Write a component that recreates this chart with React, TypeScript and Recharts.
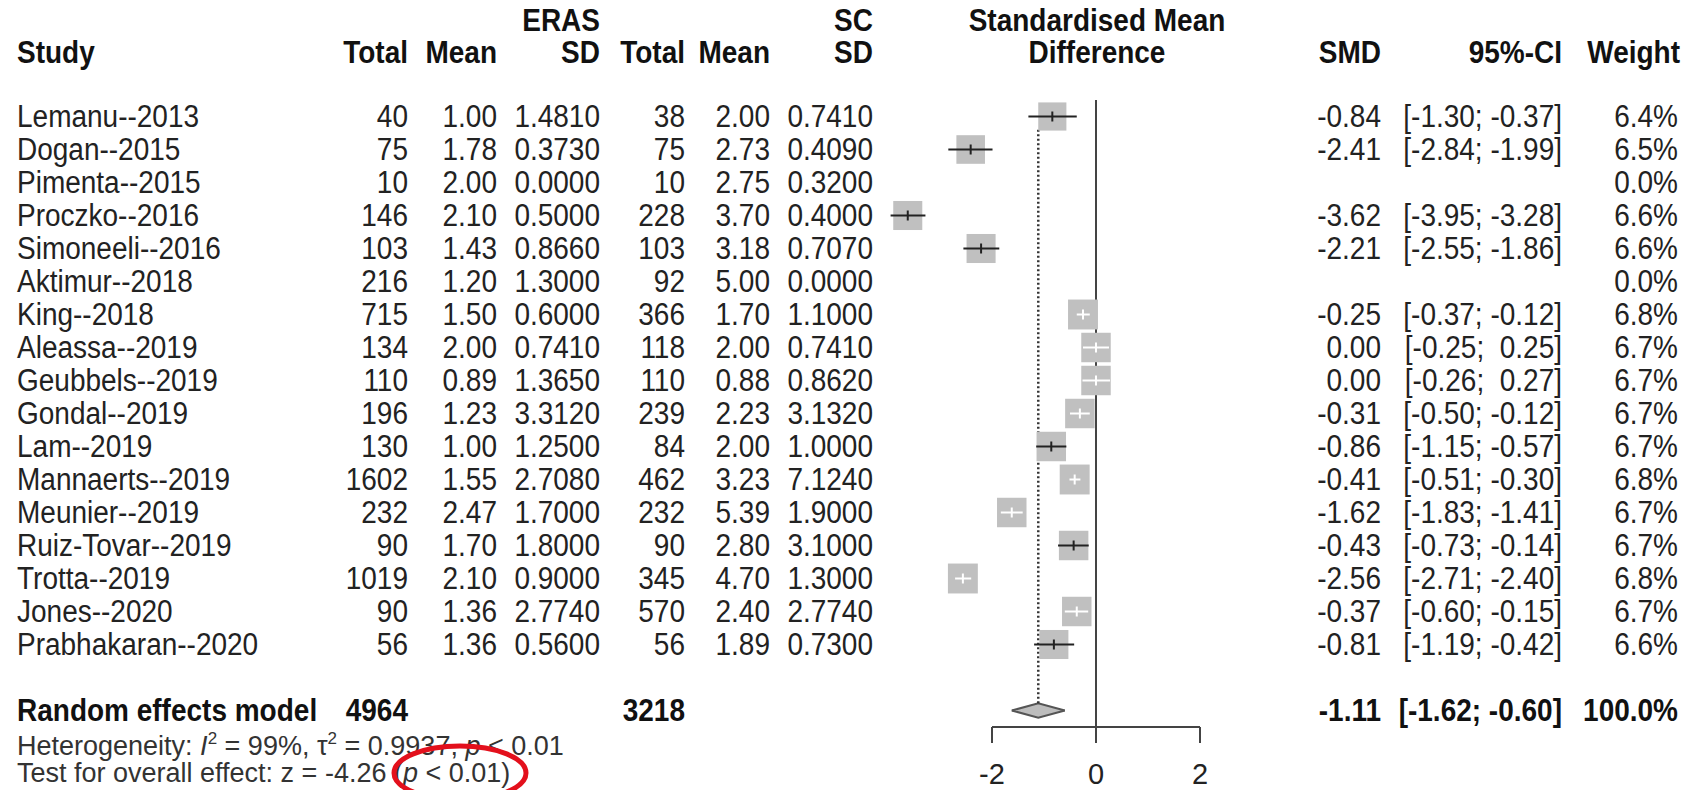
import React from 'react';
import {
  ComposedChart,
  Scatter,
  Area,
  XAxis,
  YAxis,
  ReferenceLine,
  Customized,
} from 'recharts';

// study table (ERAS vs SC)
const studies = [
  'Lemanu--2013', 'Dogan--2015', 'Pimenta--2015', 'Proczko--2016', 'Simoneeli--2016',
  'Aktimur--2018', 'King--2018', 'Aleassa--2019', 'Geubbels--2019', 'Gondal--2019',
  'Lam--2019', 'Mannaerts--2019', 'Meunier--2019', 'Ruiz-Tovar--2019', 'Trotta--2019',
  'Jones--2020', 'Prabhakaran--2020',
];
const erasTotal = [40, 75, 10, 146, 103, 216, 715, 134, 110, 196, 130, 1602, 232, 90, 1019, 90, 56];
const erasMean = [1.0, 1.78, 2.0, 2.1, 1.43, 1.2, 1.5, 2.0, 0.89, 1.23, 1.0, 1.55, 2.47, 1.7, 2.1, 1.36, 1.36];
const erasSD = [1.481, 0.373, 0, 0.5, 0.866, 1.3, 0.6, 0.741, 1.365, 3.312, 1.25, 2.708, 1.7, 1.8, 0.9, 2.774, 0.56];
const scTotal = [38, 75, 10, 228, 103, 92, 366, 118, 110, 239, 84, 462, 232, 90, 345, 570, 56];
const scMean = [2.0, 2.73, 2.75, 3.7, 3.18, 5.0, 1.7, 2.0, 0.88, 2.23, 2.0, 3.23, 5.39, 2.8, 4.7, 2.4, 1.89];
const scSD = [0.741, 0.409, 0.32, 0.4, 0.707, 0, 1.1, 0.741, 0.862, 3.132, 1.0, 7.124, 1.9, 3.1, 1.3, 2.774, 0.73];
const smd = [-0.84, -2.41, null, -3.62, -2.21, null, -0.25, 0.0, 0.0, -0.31, -0.86, -0.41, -1.62, -0.43, -2.56, -0.37, -0.81];
const ciLow = [-1.3, -2.84, null, -3.95, -2.55, null, -0.37, -0.25, -0.26, -0.5, -1.15, -0.51, -1.83, -0.73, -2.71, -0.6, -1.19];
const ciHigh = [-0.37, -1.99, null, -3.28, -1.86, null, -0.12, 0.25, 0.27, -0.12, -0.57, -0.3, -1.41, -0.14, -2.4, -0.15, -0.42];
const weight = [6.4, 6.5, 0.0, 6.6, 6.6, 0.0, 6.8, 6.7, 6.7, 6.7, 6.7, 6.8, 6.7, 6.7, 6.8, 6.7, 6.6];

// random effects model
const pooledTotals = [4964, 3218];
const pooledSmd = -1.11;
const pooledCi = [-1.62, -0.6];
const pooledWeight = 100.0;
const xTicks = [-2, 0, 2];

const FONT = '"Liberation Sans", Arial, sans-serif';
const W = 1686;
const H = 790;
const PLOT_LEFT = 888;
const PLOT_RIGHT = 1200;
const PLOT_TOP = 100;
const AXIS_H = 63;
const X_DOMAIN: [number, number] = [-4, 2];
const PX_PER_UNIT = (PLOT_RIGHT - PLOT_LEFT) / (X_DOMAIN[1] - X_DOMAIN[0]);
const POOLED_ROW = studies.length + 1;
const DIAMOND_HALF = 0.22;
const SQUARE_PER_WEIGHT = 4.4;
const STRETCH = 1.1;

// column right edges
const COL = { eTotal: 408, eMean: 497, eSD: 600, cTotal: 685, cMean: 770, cSD: 873, smd: 1381, ci: 1562, w: 1678 };

const fmtCi = (v: number) => (v >= 0 ? ' ' : '') + v.toFixed(2);

const rows = studies.map((name, i) => ({
  name,
  y: i,
  x: smd[i],
  lo: ciLow[i],
  hi: ciHigh[i],
  w: weight[i],
}));

const plotted = rows
  .filter((r) => r.x !== null)
  .map((r) => ({ ...r, side: r.w * SQUARE_PER_WEIGHT }));
// CI drawn white when it fits inside its square
const isLight = (r: any) => (r.hi - r.lo) * PX_PER_UNIT <= r.side;
const ciDark = plotted.filter((r) => !isLight(r));
const ciLight = plotted.filter((r) => isLight(r));

const diamond = [
  { x: pooledCi[0], y: [POOLED_ROW, POOLED_ROW] },
  { x: pooledSmd, y: [POOLED_ROW - DIAMOND_HALF, POOLED_ROW + DIAMOND_HALF] },
  { x: pooledCi[1], y: [POOLED_ROW, POOLED_ROW] },
];

const tickRows = [...rows.map((r) => r.y), POOLED_ROW];

const Square = (props: any) => {
  const { cx, cy, payload } = props;
  const s = payload.side;
  return <rect x={cx - s / 2} y={cy - s / 2} width={s} height={s} fill="#c0c0c0" />;
};

const NoShape = () => <g />;

const makeTick = (color: string) => (props: any) => {
  const { cx, cy } = props;
  return <line x1={cx} x2={cx} y1={cy - 5} y2={cy + 5} stroke={color} strokeWidth={2} />;
};

// text with the slight vertical stretch of the original
const T = ({ x, y, anchor = 'start', bold = false, size = 28, fill = '#222', stretch = STRETCH, children }: any) => (
  <text
    transform={`translate(${x} ${y}) scale(1 ${stretch})`}
    textAnchor={anchor}
    fontFamily={FONT}
    fontSize={size}
    fontWeight={bold ? 'bold' : 'normal'}
    fill={fill}
    style={{ whiteSpace: 'pre' }}
  >
    {children}
  </text>
);

const RowTick = (props: any) => {
  const { y, payload } = props;
  const b = y + 10;
  if (payload.value === POOLED_ROW) {
    return (
      <g>
        <T x={17} y={b} bold fill="#111">Random effects model</T>
        <T x={COL.eTotal} y={b} anchor="end" bold fill="#111">{pooledTotals[0]}</T>
        <T x={COL.cTotal} y={b} anchor="end" bold fill="#111">{pooledTotals[1]}</T>
        <T x={COL.smd} y={b} anchor="end" bold fill="#111">{pooledSmd.toFixed(2)}</T>
        <T x={COL.ci} y={b} anchor="end" bold fill="#111">{`[${fmtCi(pooledCi[0])}; ${fmtCi(pooledCi[1])}]`}</T>
        <T x={COL.w} y={b} anchor="end" bold fill="#111">{pooledWeight.toFixed(1) + '%'}</T>
      </g>
    );
  }
  const i = payload.value;
  const r = rows[i];
  if (!r) return null;
  return (
    <g>
      <T x={17} y={b}>{r.name}</T>
      <T x={COL.eTotal} y={b} anchor="end">{erasTotal[i]}</T>
      <T x={COL.eMean} y={b} anchor="end">{erasMean[i].toFixed(2)}</T>
      <T x={COL.eSD} y={b} anchor="end">{erasSD[i].toFixed(4)}</T>
      <T x={COL.cTotal} y={b} anchor="end">{scTotal[i]}</T>
      <T x={COL.cMean} y={b} anchor="end">{scMean[i].toFixed(2)}</T>
      <T x={COL.cSD} y={b} anchor="end">{scSD[i].toFixed(4)}</T>
      {r.x !== null && (
        <>
          <T x={COL.smd} y={b} anchor="end">{(r.x as number).toFixed(2)}</T>
          <T x={COL.ci} y={b} anchor="end">{`[${fmtCi(r.lo as number)}; ${fmtCi(r.hi as number)}]`}</T>
        </>
      )}
      <T x={COL.w} y={b} anchor="end">{r.w.toFixed(1) + '%'}</T>
    </g>
  );
};

const Annotations = () => {
  const h = { bold: true, fill: '#111' };
  const f = { size: 27, fill: '#333', stretch: 1 };
  const sup = { fontSize: 17 };
  return (
    <g>
      <T x={COL.eSD} y={31} anchor="end" {...h}>ERAS</T>
      <T x={COL.cSD} y={31} anchor="end" {...h}>SC</T>
      <T x={1097} y={31} anchor="middle" {...h}>Standardised Mean</T>
      <T x={17} y={63} {...h}>Study</T>
      <T x={COL.eTotal} y={63} anchor="end" {...h}>Total</T>
      <T x={COL.eMean} y={63} anchor="end" {...h}>Mean</T>
      <T x={COL.eSD} y={63} anchor="end" {...h}>SD</T>
      <T x={COL.cTotal} y={63} anchor="end" {...h}>Total</T>
      <T x={COL.cMean} y={63} anchor="end" {...h}>Mean</T>
      <T x={COL.cSD} y={63} anchor="end" {...h}>SD</T>
      <T x={1097} y={63} anchor="middle" {...h}>Difference</T>
      <T x={COL.smd} y={63} anchor="end" {...h}>SMD</T>
      <T x={COL.ci} y={63} anchor="end" {...h}>95%-CI</T>
      <T x={COL.w + 2} y={63} anchor="end" {...h}>Weight</T>

      <T x={17} y={755} {...f}>
        {'Heterogeneity: '}
        <tspan fontStyle="italic">I</tspan>
        <tspan dy={-11} {...sup}>2</tspan>
        <tspan dy={11}>{' = 99%, τ'}</tspan>
        <tspan dy={-11} {...sup}>2</tspan>
        <tspan dy={11}>{' = 0.9937, '}</tspan>
        <tspan fontStyle="italic">p</tspan>
        <tspan>{' < 0.01'}</tspan>
      </T>
      <T x={17} y={782} {...f}>
        {'Test for overall effect: z = -4.26 ('}
        <tspan fontStyle="italic">p</tspan>
        <tspan>{' < 0.01)'}</tspan>
      </T>
      <ellipse cx={460} cy={773} rx={66} ry={27} fill="none" stroke="#e3101c" strokeWidth={5} />
    </g>
  );
};

export default function App() {
  return (
    <div style={{ position: 'absolute', left: 0, top: 0, width: W, height: H, background: '#fff' }}>
      <ComposedChart
        width={W}
        height={H}
        margin={{ top: PLOT_TOP, right: W - PLOT_RIGHT, bottom: 0, left: 0 }}
      >
        <XAxis
          type="number"
          dataKey="x"
          domain={X_DOMAIN}
          ticks={xTicks}
          interval={0}
          axisLine={false}
          tickSize={16}
          tickMargin={20}
          height={AXIS_H}
          tickLine={{ stroke: '#444', strokeWidth: 2 }}
          tick={{ fontSize: 29, fill: '#222', fontFamily: FONT }}
        />
        <YAxis
          type="number"
          dataKey="y"
          domain={[-0.5, POOLED_ROW + 0.5]}
          reversed
          ticks={tickRows}
          interval={0}
          width={PLOT_LEFT}
          axisLine={false}
          tickLine={false}
          tick={(p: any) => <RowTick {...p} />}
        />
        <ReferenceLine x={0} stroke="#444" strokeWidth={2} />
        <ReferenceLine
          segment={[{ x: xTicks[0], y: POOLED_ROW + 0.5 }, { x: xTicks[2], y: POOLED_ROW + 0.5 }]}
          stroke="#444"
          strokeWidth={2}
        />
        <ReferenceLine
          segment={[{ x: pooledSmd, y: 0.4 }, { x: pooledSmd, y: POOLED_ROW - DIAMOND_HALF }]}
          stroke="#333"
          strokeWidth={2.5}
          strokeDasharray="2 2.5"
        />
        <Scatter data={plotted} shape={Square} isAnimationActive={false} />
        {plotted.map((r) => (
          <Scatter
            key={r.name}
            data={[{ x: r.lo, y: r.y }, { x: r.hi, y: r.y }]}
            line={{ stroke: isLight(r) ? '#fff' : '#222', strokeWidth: 2 }}
            shape={NoShape}
            isAnimationActive={false}
          />
        ))}
        <Scatter data={ciDark} shape={makeTick('#222')} isAnimationActive={false} />
        <Scatter data={ciLight} shape={makeTick('#fff')} isAnimationActive={false} />
        <Area
          data={diamond}
          dataKey="y"
          type="linear"
          fill="#bdbdbd"
          fillOpacity={1}
          stroke="#555"
          strokeWidth={2}
          dot={false}
          activeDot={false}
          isAnimationActive={false}
        />
        <Customized component={Annotations} />
      </ComposedChart>
    </div>
  );
}
